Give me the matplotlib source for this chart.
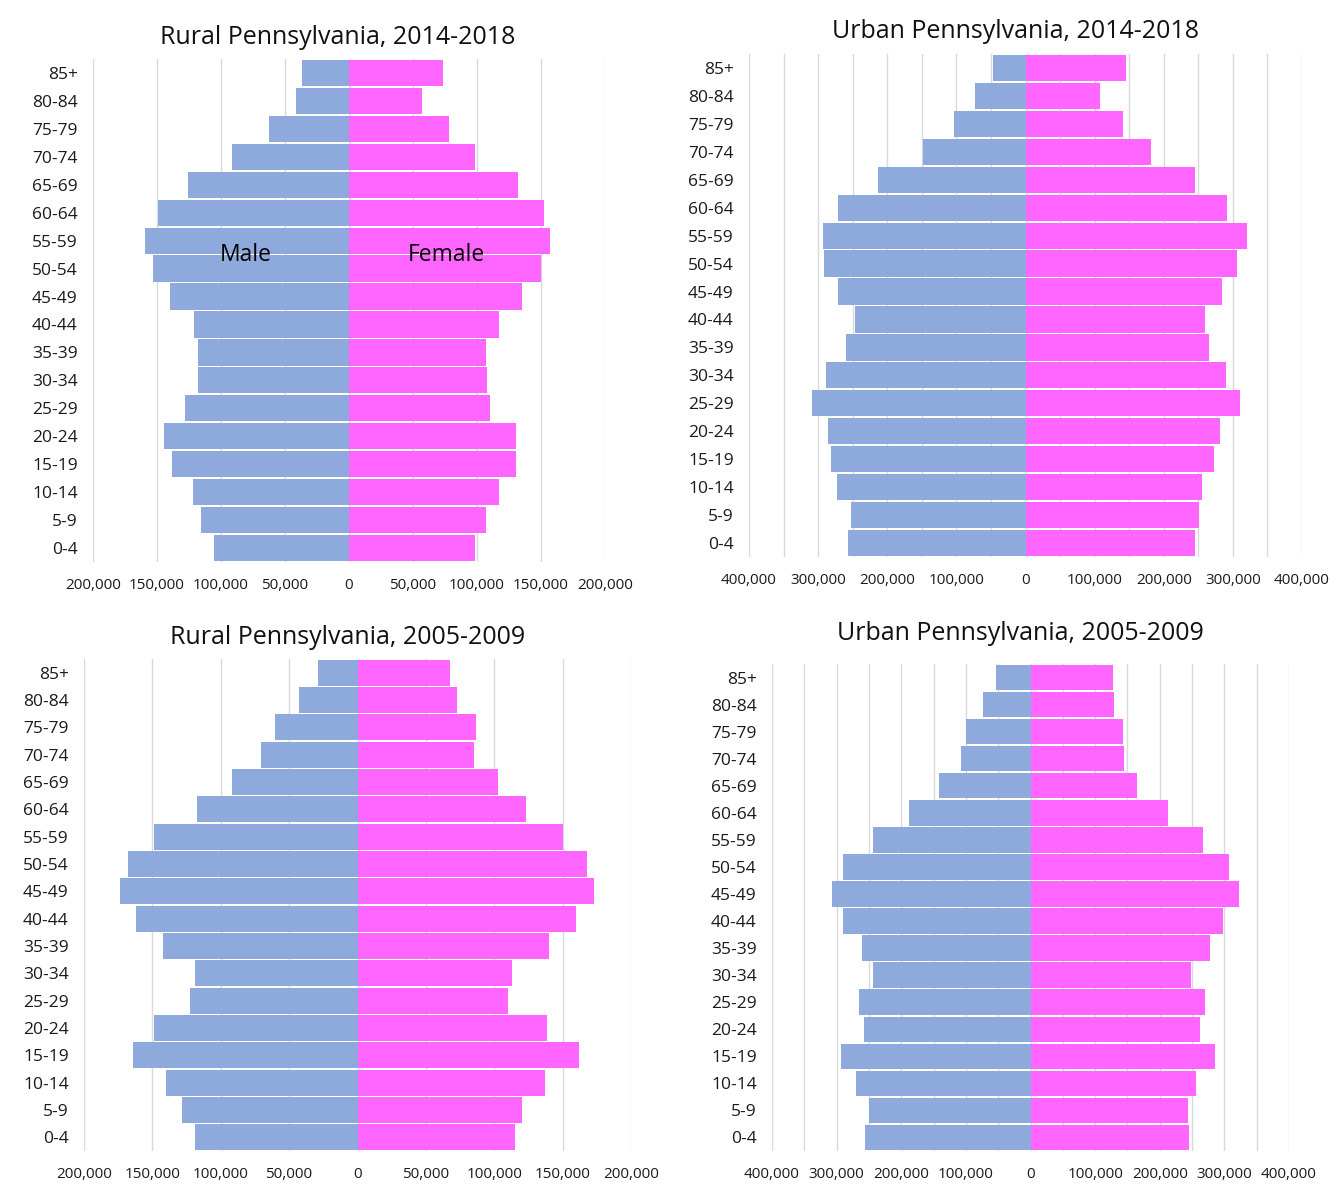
import matplotlib
matplotlib.use("Agg")
import matplotlib.pyplot as plt
from matplotlib.ticker import FuncFormatter, MultipleLocator

plt.rcParams['font.family'] = ['Open Sans', 'DejaVu Sans']

ages = ["0-4", "5-9", "10-14", "15-19", "20-24", "25-29", "30-34", "35-39", "40-44",
        "45-49", "50-54", "55-59", "60-64", "65-69", "70-74", "75-79", "80-84", "85+"]

# values listed from 0-4 up to 85+
rural_2014_male = [105800, 115500, 122200, 138600, 144200, 127900, 117900, 117900, 121200,
                   140200, 153200, 159600, 148900, 125500, 91500, 62800, 41700, 36700]
rural_2014_female = [98800, 107200, 117200, 130500, 130500, 110500, 108200, 107200, 117200,
                     134900, 150200, 156900, 152200, 131900, 98800, 77800, 56700, 73400]

urban_2014_male = [256500, 252800, 272700, 280700, 285100, 309300, 288800, 260200, 246600,
                   270800, 291300, 293200, 270800, 213700, 148400, 103000, 73300, 46600]
urban_2014_female = [245300, 250300, 254700, 273300, 281400, 310600, 289400, 265200, 259000,
                     283900, 306200, 320500, 291900, 245300, 181400, 141000, 108000, 144700]

rural_2005_male = [119100, 128400, 139700, 164400, 149000, 122500, 119100, 141900, 162200,
                   173800, 167800, 149000, 117200, 91600, 70900, 60600, 43100, 28800]
rural_2005_female = [115300, 120300, 136900, 161900, 138800, 110000, 113100, 140000, 159700,
                     173100, 167800, 150300, 123400, 102800, 85300, 86600, 73100, 67800]

urban_2005_male = [256300, 249700, 269500, 293400, 258300, 264900, 243000, 260900, 289400,
                   306600, 289400, 243000, 188700, 141000, 108000, 100000, 73500, 53600]
urban_2005_female = [245000, 243000, 256300, 284800, 262900, 269500, 247700, 278100, 298000,
                     321900, 306600, 267500, 213200, 164900, 145000, 143000, 129800, 127800]

titles = ["Rural Pennsylvania, 2014-2018", "Urban Pennsylvania, 2014-2018",
          "Rural Pennsylvania, 2005-2009", "Urban Pennsylvania, 2005-2009"]

MALE_C = '#8EA9DB'
FEMALE_C = '#FF66FF'
GRID_C = '#D9D9D9'

W, H = 1342, 1185
fig = plt.figure(figsize=(W / 100, H / 100), dpi=100)

# pixel boxes: left, right, top, bottom ; title center x, y
panels = [
    dict(box=(93, 605, 59, 562), title=(338, 38), lim=200000, tick=50000,
         male=rural_2014_male, female=rural_2014_female, t=titles[0]),
    dict(box=(749, 1302, 54, 557), title=(1015, 32), lim=400000, tick=100000,
         male=urban_2014_male, female=urban_2014_female, t=titles[1]),
    dict(box=(84, 631, 659, 1151), title=(348, 637), lim=200000, tick=50000,
         male=rural_2005_male, female=rural_2005_female, t=titles[2]),
    dict(box=(772, 1289, 664, 1151), title=(1020, 634), lim=400000, tick=100000,
         male=urban_2005_male, female=urban_2005_female, t=titles[3]),
]

fmt = FuncFormatter(lambda v, p: f"{abs(int(round(v))):,}")

for i, p in enumerate(panels):
    l, r, t, b = p['box']
    ax = fig.add_axes([l / W, 1 - b / H, (r - l) / W, (b - t) / H])
    y = list(range(len(ages)))
    ax.barh(y, [-v for v in p['male']], height=0.94, color=MALE_C, zorder=2)
    ax.barh(y, p['female'], height=0.94, color=FEMALE_C, zorder=2)
    ax.set_xlim(-p['lim'], p['lim'])
    ax.set_ylim(-0.5, len(ages) - 0.5)
    ax.set_yticks(y)
    ax.set_yticklabels(ages)
    ax.xaxis.set_major_locator(MultipleLocator(p['tick']))
    ax.xaxis.set_minor_locator(MultipleLocator(50000))
    ax.xaxis.set_major_formatter(fmt)
    ax.grid(axis='x', which='both', color=GRID_C, linewidth=1, zorder=0)
    ax.set_axisbelow(True)
    for s in ax.spines.values():
        s.set_visible(False)
    ax.tick_params(axis='y', length=0, pad=11, labelsize=12.5, labelcolor='#1a1a1a')
    ax.tick_params(axis='x', which='both', length=0, pad=11.5, labelsize=11, labelcolor='#1a1a1a')
    fig.text(p['title'][0] / W, 1 - p['title'][1] / H, p['t'], ha='center', va='center',
             fontsize=18, color='#111111')
    if i == 0:
        ax.text(-80500, 10.5, "Male", ha='center', va='center', fontsize=16.5, color='black', zorder=3)
        ax.text(75800, 10.5, "Female", ha='center', va='center', fontsize=16.5, color='black', zorder=3)

fig.savefig("out.png", dpi=100, facecolor='white')
